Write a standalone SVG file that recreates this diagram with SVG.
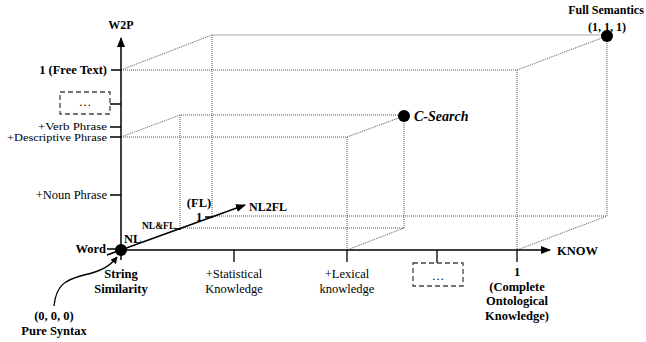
<svg xmlns="http://www.w3.org/2000/svg" width="646" height="342" viewBox="0 0 646 342">
<style>
text{font-family:"Liberation Serif","Times New Roman",serif;font-size:12.5px;fill:#000}
.b{font-weight:bold}
.m{text-anchor:middle}
.e{text-anchor:end}
.s11{font-size:11px}
.s12{font-size:12px}
.s14{font-size:14px}
.s95{font-size:9.5px}
.dot{stroke:#555;stroke-width:1;stroke-dasharray:1 1;fill:none}
.ax{stroke:#000;stroke-width:1.5;fill:none}
.tk{stroke:#000;stroke-width:1.3;fill:none}
.dbox{stroke:#444;stroke-width:1.3;stroke-dasharray:5 3;fill:#fff}
</style>
<defs>
<marker id="ah" viewBox="0 0 10 10" refX="9" refY="5" markerWidth="7" markerHeight="7" orient="auto" markerUnits="userSpaceOnUse">
<path d="M0,0 L10,5 L0,10 z" fill="#000"/>
</marker>
<marker id="ah2" viewBox="0 0 10 10" refX="9" refY="5" markerWidth="10" markerHeight="10" orient="auto" markerUnits="userSpaceOnUse">
<path d="M0,1 L10,5 L0,9 z" fill="#000"/>
</marker>
</defs>
<g id="guides">
<path class="dot" d="M121,70 L212,35 L607,35"/>
<path class="dot" d="M121,70 L517,70 L607,36"/>
<path class="dot" d="M212,35 L212,216 L607,216"/>
<path class="dot" d="M517,70 L517,250 L607,216 L607,36"/>
<path class="dot" d="M121,137 L180,115 L404,115"/>
<path class="dot" d="M121,137 L347,137 L404,116"/>
<path class="dot" d="M180,115 L180,228 L404,228"/>
<path class="dot" d="M347,137 L347,250 L404,228 L404,116"/>
</g>
<g id="connectors">
<line class="ax" x1="121" y1="260" x2="121" y2="38" marker-end="url(#ah2)"/>
<line class="ax" x1="121" y1="250" x2="550" y2="250" marker-end="url(#ah2)"/>
<line class="ax" x1="107" y1="255" x2="245" y2="205" marker-end="url(#ah2)"/>
<path class="tk" d="M111,70 H121 M110,104 H121 M110,127 H121 M110,137 H121 M110,195 H121 M107,249 H116"/>
<path class="tk" d="M234,250 V262 M347,250 V262 M437,250 V263 M517,250 V262"/>
<path class="tk" d="M205,217 H213 M175,229 H181" stroke-width="1"/>
<path d="M54,306 C56,286 64,280 84,275 C102,271 110,266 117,257" fill="none" stroke="#000" stroke-width="1.3" marker-end="url(#ah)"/>
</g>
<g id="w2p-axis">
<text class="b m s12" x="121" y="29">W2P</text>
<text class="b e" x="107" y="74">1 (Free Text)</text>
<text class="e s11" x="107" y="129.5" textLength="69" lengthAdjust="spacingAndGlyphs">+Verb Phrase</text>
<text class="e s11" x="107" y="141" textLength="100" lengthAdjust="spacingAndGlyphs">+Descriptive Phrase</text>
<text class="e" x="107" y="199">+Noun Phrase</text>
<text class="b e" x="106" y="253">Word</text>
</g>
<g id="w2p-more">
<rect class="dbox" x="60" y="92" width="50" height="22"/>
<text class="m" x="85" y="106">…</text>
</g>
<g id="know-axis">
<text class="b" x="557" y="255">KNOW</text>
<text class="b m" x="121" y="278">String</text>
<text class="b m" x="121" y="293">Similarity</text>
<text class="m" x="234" y="278">+Statistical</text>
<text class="m" x="234" y="293">Knowledge</text>
<text class="m" x="347" y="278">+Lexical</text>
<text class="m" x="347" y="293">knowledge</text>
<text class="b m" x="517" y="276">1</text>
<text class="b m" x="517" y="291">(Complete</text>
<text class="b m" x="517" y="305">Ontological</text>
<text class="b m" x="517" y="320">Knowledge)</text>
</g>
<g id="know-more">
<rect class="dbox" x="413" y="263" width="50" height="23"/>
<text class="m" x="438" y="280">…</text>
</g>
<g id="nl2fl-axis">
<text class="b" x="124" y="243">NL</text>
<text class="b s95" x="142" y="229">NL&amp;FL</text>
<text class="b m" x="199" y="207">(FL)</text>
<text class="b m" x="199" y="221">1</text>
<text class="b s12" x="249" y="211">NL2FL</text>
</g>
<g id="origin">
<circle cx="121" cy="250" r="6" fill="#000"/>
<text class="b m" x="54" y="320">(0, 0, 0)</text>
<text class="b m" x="54" y="335">Pure Syntax</text>
</g>
<g id="c-search">
<circle cx="404" cy="116" r="6" fill="#000"/>
<text class="b s14" x="414" y="121" font-style="italic">C-Search</text>
</g>
<g id="full-semantics">
<circle cx="607" cy="36" r="6" fill="#000"/>
<text class="b m s12" x="606" y="14">Full Semantics</text>
<text class="b m s12" x="607" y="31">(1, 1, 1)</text>
</g>
</svg>
